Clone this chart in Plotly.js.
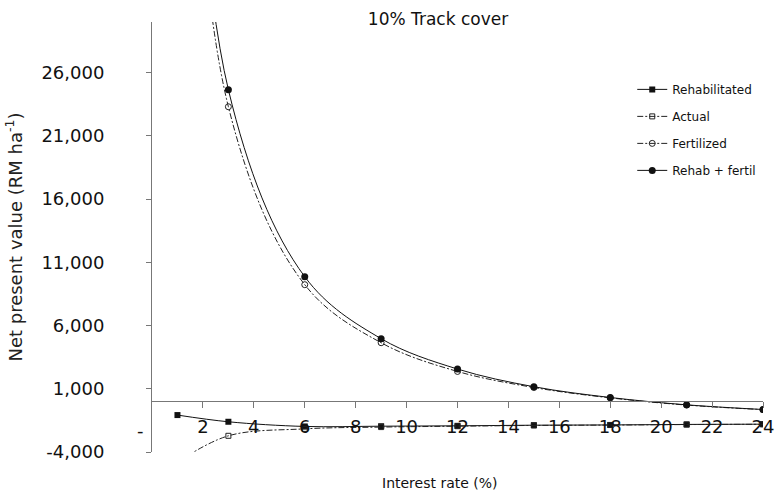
<!DOCTYPE html>
<html>
<head>
<meta charset="utf-8">
<script src="https://cdn.plot.ly/plotly-3.0.1.min.js"></script>
<style>html,body{margin:0;padding:0;background:#fff;}#chart{width:776px;height:493px;}</style>
</head>
<body>
<div id="chart"></div>
<script>
// Data
const interestRate = [1, 3, 6, 9, 12, 15, 18, 21, 24];
const rehabilitated = [-1080, -1610, -1980, -1960, -1930, -1880, -1860, -1820, -1800];
const actual = [-4800, -2720, -2170, -2030, -1960, -1900, -1870, -1830, -1810];
const fertilized = [70000, 23300, 9230, 4640, 2370, 1100, 280, -290, -650];
const rehabFertil = [73000, 24650, 9860, 4960, 2560, 1160, 310, -270, -640];
const seriesNames = ["Rehabilitated", "Actual", "Fertilized", "Rehab + fertil"];
const yTickVals = [-4000, 1000, 6000, 11000, 16000, 21000, 26000];
const yTickText = ["-4,000", "1,000", "6,000", "11,000", "16,000", "21,000", "26,000"];
const xTickVals = [2, 4, 6, 8, 10, 12, 14, 16, 18, 20, 22, 24];

const FONT = '"DejaVu Sans", "Liberation Sans", Arial, sans-serif';
const yRange = [-4000, 30000];

const traces = [
  {x: interestRate, y: rehabilitated, name: seriesNames[0], legendgroup: 'a',
   mode: 'lines+markers', line: {color: '#111', width: 1, shape: 'spline'},
   marker: {symbol: 'square', size: 6, color: '#111'}},
  {x: interestRate, y: actual, name: seriesNames[1], legendgroup: 'b',
   mode: 'lines+markers', line: {color: '#222', width: 1, shape: 'spline', dash: '6px,2px,2px,2px'},
   marker: {symbol: 'square-open', size: 5, color: '#222', line: {width: 1}}},
  {x: interestRate, y: fertilized, name: seriesNames[2], legendgroup: 'c',
   mode: 'lines+markers', line: {color: '#222', width: 1, shape: 'spline', dash: '6px,2px,2px,2px'},
   marker: {symbol: 'circle-open', size: 6, color: '#222', line: {width: 1}}},
  {x: interestRate, y: rehabFertil, name: seriesNames[3], legendgroup: 'd',
   mode: 'lines+markers', line: {color: '#111', width: 1, shape: 'spline'},
   marker: {symbol: 'circle', size: 7, color: '#111'}}
];

const layout = {
  width: 776, height: 493,
  margin: {l: 152, r: 13, t: 22, b: 41},
  paper_bgcolor: '#fff', plot_bgcolor: '#fff',
  font: {family: FONT, color: '#111'},
  showlegend: true,
  title: {text: '10% Track cover', font: {size: 17, family: FONT, color: '#111'},
          xref: 'container', x: 438 / 776, xanchor: 'center', yref: 'container', y: 0.962, yanchor: 'middle'},
  xaxis: {
    range: [0, 24], tickvals: xTickVals, ticks: 'outside', ticklen: 6, tickcolor: '#777',
    showline: true, linecolor: '#777', linewidth: 1, showgrid: false, zeroline: false,
    anchor: 'free', position: (0 - yRange[0]) / (yRange[1] - yRange[0]),
    tickfont: {size: 18, family: FONT, color: '#111'}, ticklabelstandoff: 3
  },
  yaxis: {
    range: yRange, tickvals: yTickVals, ticktext: yTickText, ticks: 'outside', ticklen: 5, tickcolor: '#777',
    showline: true, linecolor: '#777', linewidth: 1, showgrid: false, zeroline: false,
    tickfont: {size: 18, family: FONT, color: '#111'}, ticklabelstandoff: 38,
    title: {text: 'Net present value (RM ha<sup>-1</sup>)', font: {size: 18, family: FONT, color: '#222'}, standoff: 14}
  },
  legend: {x: 0.786, xanchor: 'left', y: 0.877, yanchor: 'top', traceorder: 'grouped', tracegroupgap: 8,
           font: {size: 12, family: FONT, color: '#111'}, bgcolor: 'rgba(0,0,0,0)'},
  annotations: [
    {text: '-', xref: 'paper', x: -0.028, yref: 'y', y: -2300, showarrow: false,
     font: {size: 18, family: FONT, color: '#111'}},
    {text: 'Interest rate (%)', xref: 'paper', x: (440 - 152) / 611, xanchor: 'center',
     yref: 'paper', y: -0.072, yanchor: 'middle', showarrow: false,
     font: {size: 14, family: FONT, color: '#111'}}
  ]
};

Plotly.newPlot('chart', traces, layout, {displayModeBar: false, staticPlot: true});
</script>
</body>
</html>
